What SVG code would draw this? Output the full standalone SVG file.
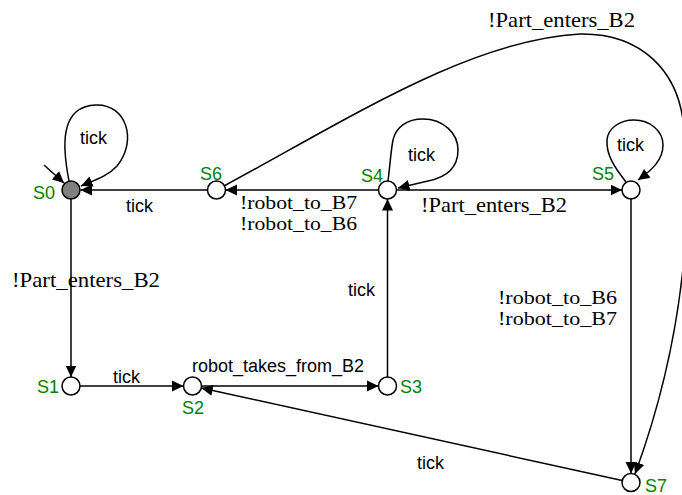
<svg xmlns="http://www.w3.org/2000/svg" width="682" height="495" viewBox="0 0 682 495">
  <style>
    .edge { fill: none; stroke: #000; stroke-width: 1.5; marker-end: url(#arrow); }
    .state { fill: #fff; stroke: #000; stroke-width: 1.5; }
    .initial { fill: #808080; }
    .name { font-family: "Liberation Sans", Arial, sans-serif; font-size: 18px; fill: #008000; }
    .sans { font-family: "Liberation Sans", Arial, sans-serif; font-size: 18px; fill: #000; }
    .serif { font-family: "Liberation Serif", "Times New Roman", serif; font-size: 22px; fill: #000; }
    .serif.stack { font-size: 18.5px; }
  </style>
  <defs>
    <marker id="arrow" markerWidth="12" markerHeight="12" refX="11.5" refY="6" orient="auto" markerUnits="userSpaceOnUse">
      <path d="M0,0.5 L11.5,6 L0,11.5 z" fill="#000"/>
    </marker>
  </defs>

  <!-- transitions -->
  <g id="edges">
    <!-- initial arrow into S0 -->
    <path class="edge" d="M44,165 L64,183"/>
    <!-- S0 self loop -->
    <path class="edge" d="M69,181 C 63,150 58,106 96,105 C 126,104 138,140 117,166 C 108,176 95,180 81,186"/>
    <text class="sans" x="80" y="144">tick</text>
    <!-- S6 -> S0 -->
    <path class="edge" d="M207,190 L80.5,190"/>
    <text class="sans" x="126" y="212">tick</text>
    <!-- S0 -> S1 -->
    <path class="edge" d="M71,199 L71,377"/>
    <text class="serif" x="12" y="287" textLength="148" lengthAdjust="spacingAndGlyphs">!Part_enters_B2</text>
    <!-- S1 -> S2 -->
    <path class="edge" d="M80,386 L183.5,386"/>
    <text class="sans" x="113" y="383">tick</text>
    <!-- S2 -> S3 -->
    <path class="edge" d="M201.5,386 L378.5,386"/>
    <text class="sans" x="192" y="372">robot_takes_from_B2</text>
    <!-- S3 -> S4 -->
    <path class="edge" d="M387.5,377 L387.5,199"/>
    <text class="sans" x="348" y="296">tick</text>
    <!-- S4 -> S6 -->
    <path class="edge" d="M378.5,190 L225.5,190"/>
    <text class="serif stack" x="240" y="209" textLength="117" lengthAdjust="spacingAndGlyphs">!robot_to_B7</text>
    <text class="serif stack" x="240" y="230" textLength="117" lengthAdjust="spacingAndGlyphs">!robot_to_B6</text>
    <!-- S4 self loop -->
    <path class="edge" d="M388,181 C 390,165 391,150 393,140 C 396,127 407,119 423,119 C 443,119 458,133 458,150 C 458,170 443,178 428,181 L 398,188"/>
    <text class="sans" x="408" y="161">tick</text>
    <!-- S4 -> S5 -->
    <path class="edge" d="M396.5,190 L622,190"/>
    <text class="serif" x="421" y="212" textLength="146" lengthAdjust="spacingAndGlyphs">!Part_enters_B2</text>
    <!-- S5 self loop -->
    <path class="edge" d="M626,182 C 615,168 606,155 607,140 C 608,128 620,120 634,120 C 650,120 663,131 663,145 C 663,160 652,170 638,180"/>
    <text class="sans" x="617" y="151">tick</text>
    <!-- S5 -> S7 -->
    <path class="edge" d="M631,199 L631,473.5"/>
    <text class="serif stack" x="498" y="304" textLength="119" lengthAdjust="spacingAndGlyphs">!robot_to_B6</text>
    <text class="serif stack" x="498" y="325" textLength="119" lengthAdjust="spacingAndGlyphs">!robot_to_B7</text>
    <!-- S7 -> S2 -->
    <path class="edge" d="M622.2,480.5 L201.3,388"/>
    <text class="sans" x="417" y="469">tick</text>
    <!-- S6 -> S7 -->
    <path class="edge" d="M224,186 C 350,118 470,40 580,34 C 640,33 680,70 684,130 C 692,200 688,330 635,474"/>
    <text class="serif" x="488" y="27" textLength="147" lengthAdjust="spacingAndGlyphs">!Part_enters_B2</text>
  </g>

  <!-- states -->
  <g id="S0">
    <circle class="state initial" cx="71" cy="190" r="9"/>
    <text class="name" x="33" y="199">S0</text>
  </g>
  <g id="S1">
    <circle class="state" cx="71" cy="386" r="9"/>
    <text class="name" x="37" y="393">S1</text>
  </g>
  <g id="S2">
    <circle class="state" cx="192.5" cy="386" r="9"/>
    <text class="name" x="182" y="414">S2</text>
  </g>
  <g id="S3">
    <circle class="state" cx="387.5" cy="386" r="9"/>
    <text class="name" x="400" y="393">S3</text>
  </g>
  <g id="S4">
    <circle class="state" cx="387.5" cy="190" r="9"/>
    <text class="name" x="361" y="182">S4</text>
  </g>
  <g id="S5">
    <circle class="state" cx="631" cy="190" r="9"/>
    <text class="name" x="592" y="180">S5</text>
  </g>
  <g id="S6">
    <circle class="state" cx="216.5" cy="190" r="9"/>
    <text class="name" x="200" y="180">S6</text>
  </g>
  <g id="S7">
    <circle class="state" cx="631" cy="482.5" r="9"/>
    <text class="name" x="645" y="492">S7</text>
  </g>
</svg>
